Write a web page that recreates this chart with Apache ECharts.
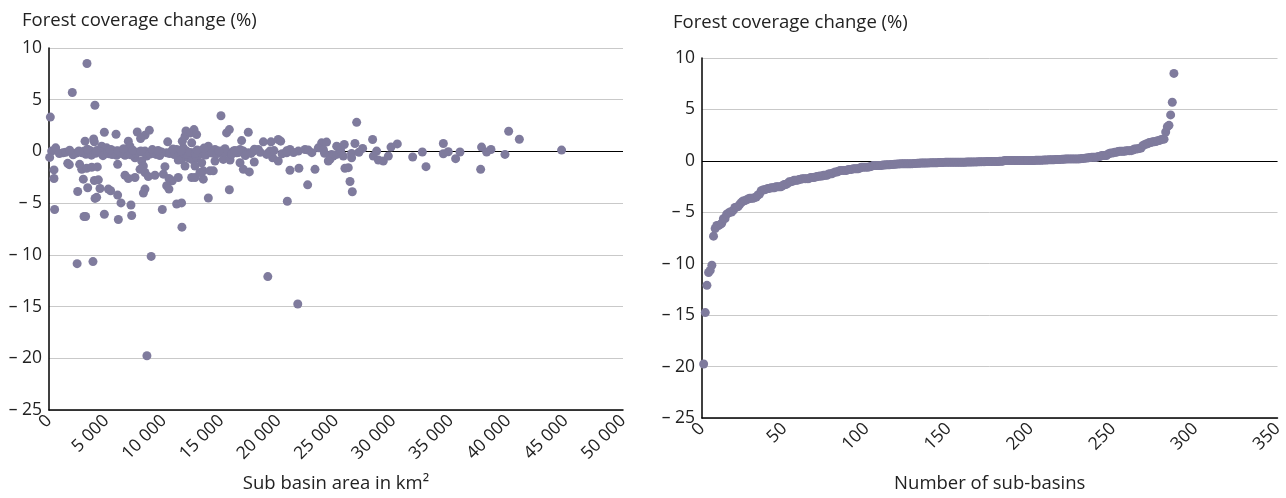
<!DOCTYPE html>
<html>
<head>
<meta charset="utf-8">
<script src="https://cdn.jsdelivr.net/npm/echarts@6/dist/echarts.min.js"></script>
<style>
  html, body { margin: 0; padding: 0; background: #ffffff; }
  #chart { width: 1286px; height: 498px; }
</style>
</head>
<body>
<div id="chart"></div>
<script>
// Sub-basin area (km²) and forest coverage change (%), one entry per sub-basin
const basinArea = [
  116, 2030, 4000, 3310, 2450, 3830, 8900, 8530, 19060, 21670,
  230, 580, 60, 1220, 435, 435, 490, 1630, 1770, 2500,
  2670, 2900, 3140, 3890, 3950, 3080, 3570, 2850, 3280, 3720,
  4210, 2990, 3950, 4300, 3370, 4440, 4010, 4150, 3050, 3190,
  4820, 5170, 5370, 5980, 5980, 6270, 6040, 7140, 7200, 4590,
  5020, 5400, 5840, 4820, 5840, 4380, 4820, 5230, 5600, 5890,
  6910, 7050, 6620, 7350, 7840, 8360, 8940, 9320, 8510, 7690,
  8360, 8740, 7980, 7490, 8070, 8220, 7930, 8360, 7490, 6910,
  6620, 8650, 9230, 8360, 8220, 9870, 10100, 9960, 10340, 10250,
  10680, 11120, 11410, 11700, 11990, 11850, 11550, 12140, 11260, 11610,
  11850, 11930, 12340, 10450, 10740, 10250, 10450, 11260, 11120, 11550,
  11580, 11850, 12430, 12430, 12570,
  14980, 12630, 12860, 15470, 15710, 17360, 16780, 12430,
  13010, 13440, 13880, 14020, 14460, 14750, 15040, 15330, 15620, 16060,
  16350, 16640, 16930, 17360, 17800, 18230,
  12860, 13300, 12720, 13440, 12720, 13440, 13150, 14020, 14310,
  14460, 15180, 15770, 16640, 16930, 17450, 17880, 15710, 13880,
  18670, 19340, 19970, 20180, 18960, 19480, 19970, 19250, 20700, 20990,
  21720, 22300, 22590, 20990, 21770, 23170, 22530, 20760,
  23750, 24180, 25060, 24620, 24470, 24760, 24330, 23460,
  26800, 26650, 25720, 25060, 25640, 26360, 26360, 25780, 26070, 26220,
  26420, 27320, 28190, 28540, 28250, 28690, 29120, 29560, 29790, 30340,
  31680, 32520, 32840, 34350, 34350, 34780, 35420, 35800, 37680, 37600,
  38120, 38500, 39720, 40040, 40970, 44650,
  900, 1450, 2100, 2380, 2760, 3220, 3460, 3700, 4060, 4500,
  4700, 5120, 5500, 6150, 6400, 6780, 7100, 7600, 8180, 8800,
  9100, 9650, 9800, 10500, 10900, 11300, 11750, 12050, 12300, 12750,
  13200, 13650, 14200, 14600, 15250, 15900, 16500, 17100, 17600, 18400,
  19100, 20300, 21300, 22900,
  1800, 2600, 3350, 4150, 5300, 6000, 6500, 7300, 8000, 9000,
  9500, 10800, 11500, 12900, 13500, 14800, 16200, 17900, 19600, 23900,
  20700, 24000, 25400, 27000
];
const forestChange = [
  3.32, 5.7, 4.47, 8.5, -10.85, -10.65, -10.15, -19.75, -12.1, -14.75,
  0.03, 0.35, -0.58, -0.13, -1.79, -2.62, -5.62, -1.15, -1.28, -3.87,
  -1.25, -0.13, 0.99, 1.21, 0.93, 0.03, 0.1, -1.73, -1.63, -1.53,
  -1.5, -2.68, -2.81, -2.75, -3.51, -3.58, -4.54, -4.44, -6.29, -6.29,
  -6.07, -3.64, -3.8, -1.25, -4.22, -4.98, -6.58, -5.18, -6.2, 0.51,
  0.35, 0.19, 0.03, 1.85, 1.66, 0.03, -0.13, -0.22, -0.19, -0.38,
  0.99, 0.51, -0.38, 0.03, -0.06, 0.03, 0.03, -0.29, -0.45, 1.88,
  1.57, 2.04, 1.25, -0.61, -0.93, -1.41, -1.73, -2.04, -2.52, -2.62,
  -2.3, -2.43, -2.3, -3.64, -4.03, -5.62, -1.47, -2.2, 0.93, -0.13,
  0.03, 0.19, -0.13, 0.35, 0.03, -0.45, -0.77, -0.61, -0.83, 0.99,
  1.47, 1.98, 1.79, -2.62, -2.84, -3.32, -3.64, -2.52, -5.08, -4.98,
  -7.32, -1.41, -2.52, -0.77, -0.13,
  3.45, 2.11, 1.63, 1.79, 2.11, 1.85, 1.05, 0.83,
  0.03, -0.29, 0.51, 0.03, 0.19, -0.13, 0.03, 0.26, -0.13, 0.03,
  -0.13, 0.19, 0.03, -0.13, 0.03, 0.19,
  -0.61, -1.09, -1.41, -1.88, -2.52, -2.68, -2.04, -1.88, -1.88,
  -0.93, -0.77, -0.83, -1.09, -1.73, -1.98, -1.02, -3.71, -4.5,
  0.93, 0.93, 1.15, 0.99, -0.29, -0.61, -0.93, 0.03, -0.13, 0.19,
  0.03, 0.19, 0.13, -1.82, -1.63, -1.73, -3.23, -4.82,
  0.83, 0.9, 0.51, -0.29, -0.77, -0.45, -0.93, 0.35,
  2.81, 0.77, 0.67, -0.29, -0.45, -0.19, -0.61, -1.63, -1.57, -2.91,
  -3.9, 0.29, 1.15, 0.03, -0.45, -0.83, -0.93, -0.45, 0.42, 0.73,
  -0.54, -0.06, -1.47, 0.77, -0.22, -0.03, -0.7, -0.06, 0.42, -1.73,
  -0.06, 0.19, -0.29, 1.95, 1.18, 0.13,
  -0.21, -0.08, -0.32, -0.15, -0.05, -0.27, -0.11, -0.36, -0.18, -0.09,
  -0.41, -0.06, -0.3, -0.14, -0.23, -0.1, -0.33, -0.17, -0.07, -0.25,
  -0.12, -0.39, -0.05, -0.2, -0.3, -0.08, -0.16, -0.26, -0.1, -0.2,
  -0.07, -0.35, -0.15, -0.24, -0.06, -0.29, -0.11, -0.4, -0.19, -0.09,
  -0.14, -0.22, -0.1, -0.12,
  0.12, 0.05, 0.22, 0.08, 0.15, 0.06, 0.27, 0.11, 0.04, 0.18,
  0.09, 0.24, 0.07, 0.14, 0.32, 0.05, 0.1, 0.21, 0.08, 0.16,
  0.06, -0.18, 0.1, -0.08
];

// Axis ranges
const changeRange = { min: -25, max: 10, step: 5 };
const areaRange = { min: 0, max: 50000, step: 5000 };
const rankRange = { min: 0, max: 350, step: 50 };

const yTitle = 'Forest coverage change (%)';
const areaTitle = 'Sub basin area in km²';
const rankTitle = 'Number of sub-basins';

const FONT = "'Open Sans', 'Noto Sans', sans-serif";
const TEXT = '#222222';
const DOT = '#7f7b9d';
const TICK_SIZE = 17.5;
const TITLE_SIZE = 18.5;

const scatterPoints = basinArea.map((a, i) => [a, forestChange[i]]);
const rankedPoints = forestChange.slice().sort((a, b) => a - b).map((v, i) => [i + 1, v]);

const fmtChange = v => v < 0 ? '\u2013 ' + Math.abs(v) : String(v);
const fmtArea = v => v === 0 ? '0' : String(v).replace(/\B(?=(\d{3})+(?!\d))/g, ' ');

function yAxisFor(gridIndex) {
  return {
    gridIndex, type: 'value',
    min: changeRange.min, max: changeRange.max, interval: changeRange.step,
    axisLine: { show: true, lineStyle: { color: '#000', width: 1.5 } },
    axisTick: { show: false },
    axisLabel: { color: TEXT, fontSize: TICK_SIZE, fontFamily: FONT, margin: 7, formatter: fmtChange },
    splitLine: { show: true, lineStyle: { color: '#c9c9c9', width: 1 } }
  };
}
function xAxisFor(gridIndex, range, name, gap, fmt) {
  return {
    gridIndex, type: 'value',
    min: range.min, max: range.max, interval: range.step,
    name, nameLocation: 'middle', nameGap: gap,
    nameTextStyle: { color: TEXT, fontSize: TITLE_SIZE, fontFamily: FONT },
    axisLine: { show: true, onZero: false, lineStyle: { color: '#000', width: 1.5 } },
    axisTick: { show: false },
    axisLabel: { color: TEXT, fontSize: TICK_SIZE, fontFamily: FONT, rotate: 45, margin: 8, formatter: fmt, showMaxLabel: true, showMinLabel: true },
    splitLine: { show: false }
  };
}
const zeroLine = {
  silent: true, symbol: 'none', z: 1,
  label: { show: false },
  lineStyle: { color: '#000', width: 1.2, type: 'solid' },
  data: [{ yAxis: 0 }]
};

const chart = echarts.init(document.getElementById('chart'), null, { renderer: 'canvas' });
chart.setOption({
  animation: false,
  backgroundColor: '#ffffff',
  textStyle: { fontFamily: FONT },
  grid: [
    { left: 49, top: 48, width: 574, height: 365 },
    { left: 702, top: 58, width: 577, height: 363 }
  ],
  xAxis: [
    xAxisFor(0, areaRange, areaTitle, 64, fmtArea),
    xAxisFor(1, rankRange, rankTitle, 56, v => String(v))
  ],
  yAxis: [yAxisFor(0), yAxisFor(1)],
  graphic: [
    { type: 'text', left: 22, top: 11, style: { text: yTitle, fill: TEXT, font: TITLE_SIZE + 'px ' + FONT } },
    { type: 'text', left: 673, top: 13, style: { text: yTitle, fill: TEXT, font: TITLE_SIZE + 'px ' + FONT } }
  ],
  series: [
    {
      type: 'scatter', xAxisIndex: 0, yAxisIndex: 0,
      data: scatterPoints, symbolSize: 9, z: 3,
      itemStyle: { color: DOT, opacity: 1 },
      markLine: zeroLine
    },
    {
      type: 'scatter', xAxisIndex: 1, yAxisIndex: 1,
      data: rankedPoints, symbolSize: 9, z: 3,
      itemStyle: { color: DOT, opacity: 1 },
      markLine: zeroLine
    }
  ]
});
</script>
</body>
</html>
